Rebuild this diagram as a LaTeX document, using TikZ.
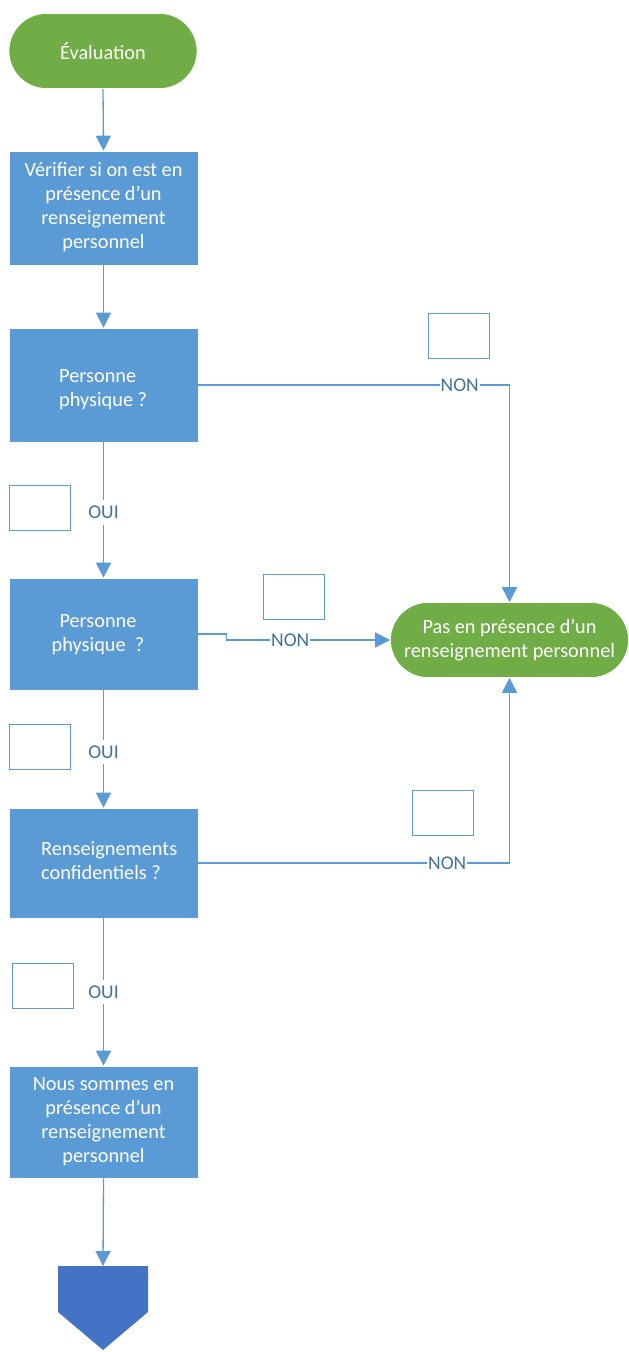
\documentclass[tikz,border=0pt]{standalone}
\usepackage{fontspec}
\setmainfont{Carlito}
\usetikzlibrary{arrows.meta,shapes.misc}
\definecolor{boxblue}{HTML}{5B9BD5}
\definecolor{termgreen}{HTML}{70AD47}
\definecolor{opcblue}{HTML}{4472C4}
\definecolor{lbltext}{HTML}{41719C}
\tikzset{
  stepbox/.style={rectangle, fill=boxblue, draw=white, line width=0.6pt, minimum width=189pt, minimum height=114pt, inner sep=0pt},
  boxtext/.style={text=white, font=\fontsize{20.3}{24}\selectfont, inner sep=0pt},
  term/.style={rounded rectangle, fill=termgreen, draw=white, line width=0.6pt, minimum height=75pt, inner sep=0pt, text=white, font=\fontsize{20.3}{24.5}\selectfont, align=center},
  conn/.style={draw=boxblue, line width=1.3pt},
  arr/.style={conn, -{Triangle[width=15pt,length=15pt]}},
  lbl/.style={fill=white, text=lbltext, font=\fontsize{19.5}{22}\selectfont, inner sep=1pt},
  ouilbl/.style={fill=white, text=lbltext, font=\fontsize{19.5}{22}\selectfont, inner xsep=1pt, inner ysep=6pt},
  emptybox/.style={rectangle, draw=boxblue, line width=1pt, fill=white, minimum width=61pt, minimum height=45pt, inner sep=0pt}
}
\begin{document}
\begin{tikzpicture}[x=1pt,y=-1pt]
\useasboundingbox (0,0) rectangle (629,1352);
% terminals
\node[term, minimum width=188pt] (eval) at (103,51) {Évaluation};
\node[term, minimum width=238pt] (pas) at (509.5,640) {Pas en présence d’un\\renseignement personnel};
% process boxes
\node[stepbox] (b1) at (103.5,208) {};
\node[boxtext, align=center] (t1) at (103.5,207) {Vérifier si on est en\\présence d’un\\renseignement\\personnel};
\node[stepbox] (b2) at (103.5,385) {};
\node[boxtext, align=left, anchor=west] (t2) at (59,390) {Personne\\physique ?};
\node[stepbox, minimum height=112pt] (b3) at (103.5,634) {};
\node[boxtext, align=center] (t3) at (98,635) {Personne\\physique \ ?};
\node[stepbox, minimum height=110pt] (b4) at (103.5,863) {};
\node[boxtext, align=left, anchor=west] (t4) at (41,861) {Renseignements\\confidentiels ?};
\node[stepbox, minimum height=112pt] (b5) at (103.5,1122) {};
\node[boxtext, align=center] (t5) at (103.5,1122) {Nous sommes en\\présence d’un\\renseignement\\personnel};
% off-page connector
\fill[opcblue] (58,1266) -- (148,1266) -- (148,1312) -- (103,1350) -- (58,1312) -- cycle;
\coordinate (opc) at (103,1266);
% empty boxes
\node[emptybox] (e1) at (459,336) {};
\node[emptybox] (e2) at (40,508) {};
\node[emptybox] (e3) at (294,597) {};
\node[emptybox] (e4) at (39.5,747) {};
\node[emptybox] (e5) at (442.5,813) {};
\node[emptybox] (e6) at (42.5,986) {};
% connectors
\draw[arr] (eval.south) -- (b1.north);
\draw[arr] (b1.south) -- (b2.north);
\draw[arr] (b2.south) -- node[ouilbl, pos=0.52] (oui1) {OUI} (b3.north);
\draw[arr] (b3.south) -- node[ouilbl, pos=0.525] (oui2) {OUI} (b4.north);
\draw[arr] (b4.south) -- node[ouilbl, pos=0.5] (oui3) {OUI} (b5.north);
\draw[arr] (b5.south) -- (opc);
\draw[arr] (b2.east) -| node[lbl, pos=0.42] (non1) {NON} (pas.north);
\draw[arr] (b3.east) -- ++(28,0) |- node[lbl, pos=0.695] (non2) {NON} (pas.west);
\draw[arr] (b4.east) -| node[lbl, pos=0.40] (non3) {NON} (pas.south);
\end{tikzpicture}
\end{document}
